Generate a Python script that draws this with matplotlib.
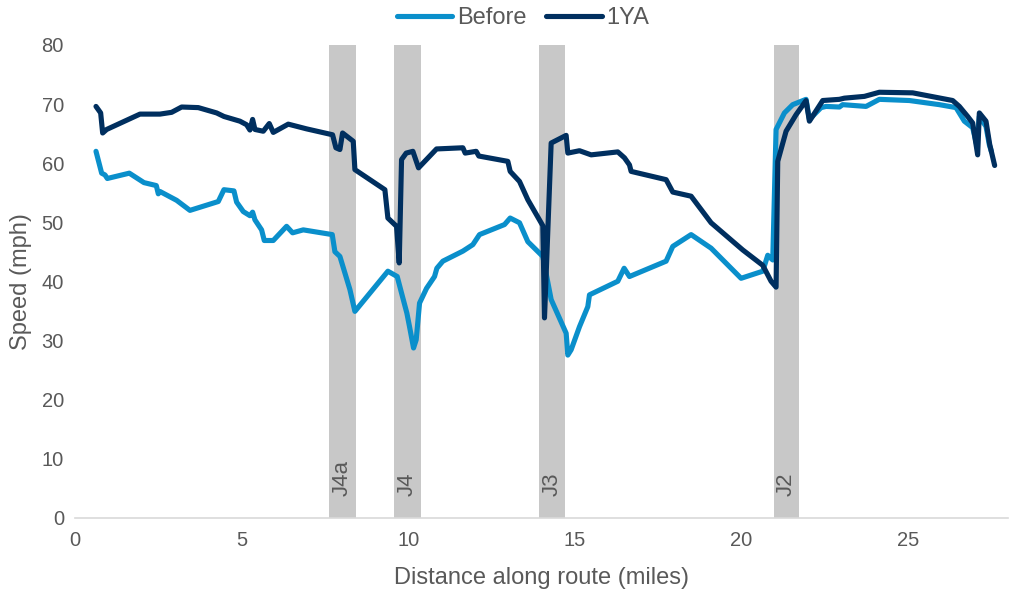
import matplotlib
matplotlib.use("Agg")
import matplotlib.pyplot as plt

# Average speed along the route, by distance (miles)
before_miles = [0.63, 0.80, 0.90, 0.97, 1.63, 2.07, 2.44, 2.50, 2.55, 3.05, 3.45, 4.30, 4.47,
                4.77, 4.85, 5.05, 5.25, 5.33, 5.40, 5.60, 5.68, 5.95, 6.35, 6.53, 6.85, 7.72,
                7.80, 7.95, 8.10, 8.25, 8.40, 9.39, 9.67, 9.80, 9.96, 10.04, 10.16, 10.24,
                10.34, 10.55, 10.79, 10.86, 11.04, 11.64, 11.94, 12.14, 12.89, 13.06, 13.34,
                13.59, 14.04, 14.29, 14.74, 14.79, 14.89, 15.14, 15.39, 15.44, 16.29, 16.48,
                16.64, 17.74, 17.94, 18.49, 19.09, 19.99, 20.64, 20.79, 20.94, 21.04, 21.29,
                21.54, 21.94, 22.04, 22.39, 22.54, 22.94, 23.04, 23.74, 24.14, 25.04, 25.94,
                26.44, 26.69, 26.94, 27.06, 27.14, 27.34, 27.44, 27.50]
before_mph = [62.0, 58.3, 58.0, 57.4, 58.3, 56.7, 56.2, 54.8, 55.2, 53.7, 52.0, 53.5, 55.5,
              55.3, 53.4, 51.8, 51.1, 51.7, 50.4, 48.7, 46.9, 46.9, 49.3, 48.2, 48.7, 47.9,
              45.0, 44.2, 41.4, 38.6, 34.9, 41.7, 40.8, 38.0, 34.6, 32.3, 28.7, 30.1,
              36.3, 38.8, 40.8, 42.2, 43.4, 45.1, 46.2, 47.9, 49.6, 50.7, 49.9,
              46.7, 44.2, 36.9, 31.2, 27.5, 28.4, 32.3, 35.7, 37.7, 40.0, 42.2,
              40.8, 43.4, 45.9, 47.9, 45.6, 40.5, 41.7, 44.4, 43.6, 65.7, 68.5,
              69.9, 70.8, 67.4, 69.4, 69.6, 69.5, 69.9, 69.6, 70.8, 70.6, 69.9,
              69.4, 67.1, 66.0, 63.1, 67.9, 66.2, 63.1, 62.0]

ya_miles = [0.63, 0.77, 0.83, 0.95, 1.95, 2.55, 2.90, 3.20, 3.70, 4.25, 4.47, 4.95, 5.15,
            5.25, 5.33, 5.40, 5.65, 5.83, 5.95, 6.40, 6.95, 7.73, 7.83, 7.95, 8.03, 8.35,
            8.40, 9.30, 9.39, 9.65, 9.73, 9.80, 9.94, 10.14, 10.31, 10.85, 11.64, 11.71,
            12.04, 12.12, 12.99, 13.06, 13.34, 13.59, 14.04, 14.09, 14.29, 14.74, 14.79,
            15.14, 15.49, 16.29, 16.49, 16.64, 16.69, 17.74, 17.94, 18.49, 19.09, 20.04,
            20.64, 20.89, 21.04, 21.09, 21.34, 21.64, 21.94, 22.04, 22.44, 22.94, 23.09,
            23.69, 24.14, 25.14, 26.34, 26.54, 26.79, 26.94, 27.09, 27.14, 27.34, 27.45,
            27.60]
ya_mph = [69.6, 68.5, 65.1, 65.7, 68.3, 68.3, 68.6, 69.5, 69.4, 68.5, 67.9, 67.1, 66.5,
          65.6, 67.4, 65.7, 65.4, 66.7, 65.2, 66.6, 65.8, 64.8, 62.6, 62.3, 65.1, 63.7,
          58.9, 55.5, 50.7, 49.3, 43.1, 60.6, 61.7, 62.0, 59.2, 62.4, 62.6, 61.7,
          62.0, 61.2, 60.3, 58.6, 56.9, 53.8, 49.4, 33.8, 63.4, 64.7, 61.7,
          62.1, 61.4, 61.9, 60.9, 59.7, 58.6, 57.2, 55.1, 54.4, 49.9, 45.3,
          42.7, 40.0, 39.0, 60.3, 65.4, 68.2, 70.6, 67.1, 70.6, 70.8, 71.0,
          71.3, 72.0, 71.9, 70.6, 69.6, 67.9, 66.8, 61.4, 68.5, 67.1, 63.2,
          59.6]

# Motorway junction zones (start, end in miles)
junction_names = ["J4a", "J4", "J3", "J2"]
junction_start = [7.63, 9.57, 13.92, 20.97]
junction_end = [8.43, 10.37, 14.72, 21.74]

series_names = ["Before", "1YA"]
x_ticks = [0, 5, 10, 15, 20, 25]
y_ticks = [0, 10, 20, 30, 40, 50, 60, 70, 80]

TEXT = "#595959"
plt.rcParams["font.family"] = ["Liberation Sans", "DejaVu Sans"]

fig = plt.figure(figsize=(10.09, 5.90), dpi=100)
ax = fig.add_axes([75 / 1009, 1 - 517.5 / 590, 1 - 75 / 1009 - 0.001, (517.5 - 45) / 590])

for name, x0, x1 in zip(junction_names, junction_start, junction_end):
    ax.axvspan(x0, x1, color="#C8C8C8", lw=0, zorder=1)
    ax.text((x0 + x1) / 2, 3.6, name, rotation=90, ha="center", va="bottom",
            fontsize=16, color=TEXT, zorder=2)

line_kw = dict(lw=3.7, solid_joinstyle="round", solid_capstyle="round", zorder=3)
ax.plot(before_miles, before_mph, color="#0A8FCB", label=series_names[0], **line_kw)
ax.plot(ya_miles, ya_mph, color="#002F5F", label=series_names[1], **line_kw)

ax.set_xlim(0, 28)
ax.set_ylim(0, 80)
ax.set_xticks(x_ticks)
ax.set_yticks(y_ticks)
ax.tick_params(axis="both", length=0, labelsize=14.5, labelcolor=TEXT)
ax.tick_params(axis="x", pad=10)
ax.tick_params(axis="y", pad=8)
for side in ["top", "right", "left"]:
    ax.spines[side].set_visible(False)
ax.spines["bottom"].set_color("#D9D9D9")
ax.spines["bottom"].set_linewidth(1.2)
ax.spines["bottom"].set_zorder(4)

ax.set_xlabel("Distance along route (miles)", fontsize=17, color=TEXT, labelpad=12)
ax.set_ylabel("Speed (mph)", fontsize=17, color=TEXT, labelpad=7)

fig.legend(loc="center", bbox_to_anchor=(523 / 1009, 1 - 18 / 590), ncol=2, frameon=False,
           fontsize=17, handlelength=2.35, handletextpad=0.2, columnspacing=0.85,
           labelcolor=TEXT)

fig.savefig("out.png", dpi=100)
